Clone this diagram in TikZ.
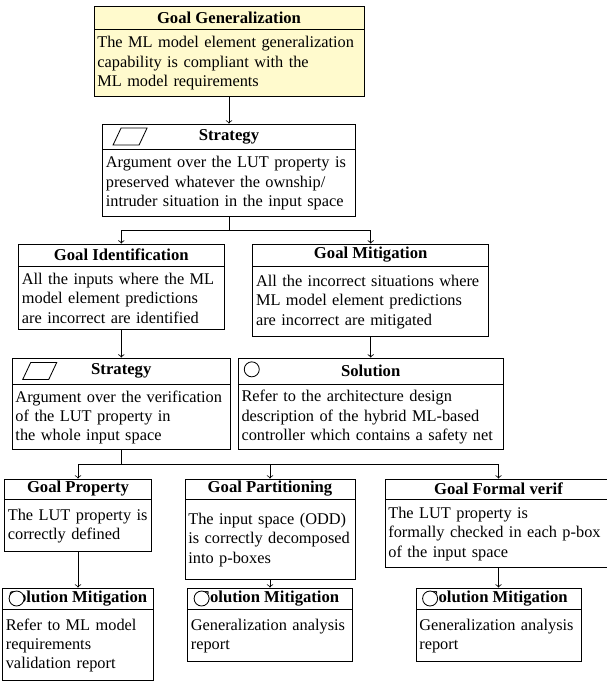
\documentclass[tikz,border=0pt]{standalone}
\usepackage{fontspec}
\setmainfont{Liberation Serif}
\usetikzlibrary{positioning}
\usetikzlibrary{arrows}
\definecolor{goalyellow}{RGB}{255,250,205}

\tikzset{
  head/.style={draw, font=\bfseries, inner sep=0pt},
  body/.style={draw, align=left, inner xsep=2pt, inner ysep=0pt,
    execute at begin node={\hyphenpenalty=10000}},
  solmark/.style={draw, circle, fill=white, inner sep=0pt, minimum size=9pt},
}

\begin{document}
\begin{tikzpicture}[x=0.6pt, y=-0.6pt, >=to, line width=0.5pt,
    font=\fontsize{9.8pt}{11.6pt}\selectfont]
		\useasboundingbox (0,0) rectangle (606,681);
		\def\parl{(6.6pt,-5.1pt) -- ++(15.6pt,0pt) -- ++(4.8pt,10.2pt) -- ++(-15.6pt,0pt) -- cycle}

		% --- top goal and strategy ---
		\node[head, fill=goalyellow, minimum width=162pt, minimum height=13.8pt] (gen-h) at (229,17.5) {Goal Generalization};
		\node[body, fill=goalyellow, text width=158pt, minimum height=40.2pt, below=0pt of gen-h] (gen)
			{The ML model element generalization\\capability is compliant with the\\ML model requirements};

		\node[head, minimum width=151.8pt, minimum height=15pt] (str1-h) at (229,136.5) {Strategy};
		\node[body, text width=147.8pt, minimum height=40.2pt, below=0pt of str1-h] (str1)
			{Argument over the LUT property is\\preserved whatever the ownship/\\intruder situation in the input space};
		\draw[shift={(str1-h.west)}] \parl;

		% --- second level ---
		\node[head, minimum width=123.3pt, minimum height=13.2pt] (gid-h) at (121.3,255) {Goal Identification};
		\node[body, text width=119.3pt, minimum height=37.8pt, below=0pt of gid-h] (gid)
			{All the inputs where the ML\\model element predictions\\are incorrect are identified};

		\node[head, minimum width=141.6pt, minimum height=13.2pt] (gmit-h) at (370.7,255) {Goal Mitigation};
		\node[body, text width=137.6pt, minimum height=42pt, below=0pt of gmit-h] (gmit)
			{All the incorrect situations where\\ML model element predictions\\are incorrect are mitigated};

		\node[head, minimum width=131pt, minimum height=15.6pt] (str2-h) at (121.3,371) {Strategy};
		\node[body, text width=127pt, minimum height=39pt, below=0pt of str2-h] (str2)
			{Argument over the verification\\of the LUT property in\\the whole input space};
		\draw[shift={(str2-h.west)}] \parl;

		\node[head, minimum width=159pt, minimum height=15.6pt] (sol-h) at (370.7,371) {Solution};
		\node[body, text width=155pt, minimum height=39pt, below=0pt of sol-h] (sol)
			{Refer to the architecture design\\description of the hybrid ML-based\\controller which contains a safety net};
		\node[solmark] (sol-ic) at ([shift={(8.4pt,1pt)}]sol-h.west) {};

		% --- bottom goals ---
		\node[head, minimum width=88.2pt, minimum height=12pt] (gprop-h) at (78,489) {Goal Property};
		\node[body, text width=84.2pt, minimum height=31.2pt, below=0pt of gprop-h] (gprop)
			{The LUT property is\\correctly defined};

		\node[head, minimum width=102pt, minimum height=12pt] (gpart-h) at (270,489) {Goal Partitioning};
		\node[body, text width=98pt, minimum height=48pt, below=0pt of gpart-h] (gpart)
			{The input space (ODD)\\is correctly decomposed\\into p-boxes};

		\node[head, minimum width=136.2pt, minimum height=12pt] (gform-h) at (498.5,489) {Goal Formal verif};
		\node[body, text width=132.2pt, minimum height=40.8pt, below=0pt of gform-h] (gform)
			{The LUT property is\\formally checked in each p-box\\of the input space};

		% --- solutions ---
		\node[head, minimum width=90.6pt, minimum height=12.6pt] (sol1-h) at (78,598.5) {Solution Mitigation};
		\node[body, text width=86.6pt, minimum height=42.6pt, below=0pt of sol1-h] (sol1)
			{Refer to ML model\\requirements\\validation report};
		\node[solmark] (sol1-ic) at ([xshift=8.7pt]sol1-h.west) {};

		\node[head, minimum width=99pt, minimum height=12.6pt] (sol2-h) at (270,598.5) {Solution Mitigation};
		\node[body, text width=95pt, minimum height=31.2pt, below=0pt of sol2-h] (sol2)
			{Generalization analysis\\report};
		\node[solmark] (sol2-ic) at ([xshift=8.7pt]sol2-h.west) {};

		\node[head, minimum width=99pt, minimum height=12.6pt] (sol3-h) at (498.5,598.5) {Solution Mitigation};
		\node[body, text width=95pt, minimum height=31.2pt, below=0pt of sol3-h] (sol3)
			{Generalization analysis\\report};
		\node[solmark] (sol3-ic) at ([xshift=8.7pt]sol3-h.west) {};

		% --- links ---
		\coordinate (j1) at (229,230);
		\coordinate (j2) at (121.3,464);
		\draw[->] (gen) -- (str1-h);
		\draw (str1) -- (j1);
		\draw[->] (j1) -| (gid-h);
		\draw[->] (j1) -| (gmit-h);
		\draw[->] (gid) -- (str2-h);
		\draw[->] (gmit) -- (sol-h);
		\draw (str2) -- (j2);
		\draw[->] (j2) -| (gprop-h);
		\draw[->] (j2) -| (gpart-h);
		\draw[->] (j2) -| (gform-h);
		\draw[->] (gprop) -- (sol1-h);
		\draw[->] (gpart) -- (sol2-h);
		\draw[->] (gform) -- (sol3-h);
	\end{tikzpicture}
\end{document}
